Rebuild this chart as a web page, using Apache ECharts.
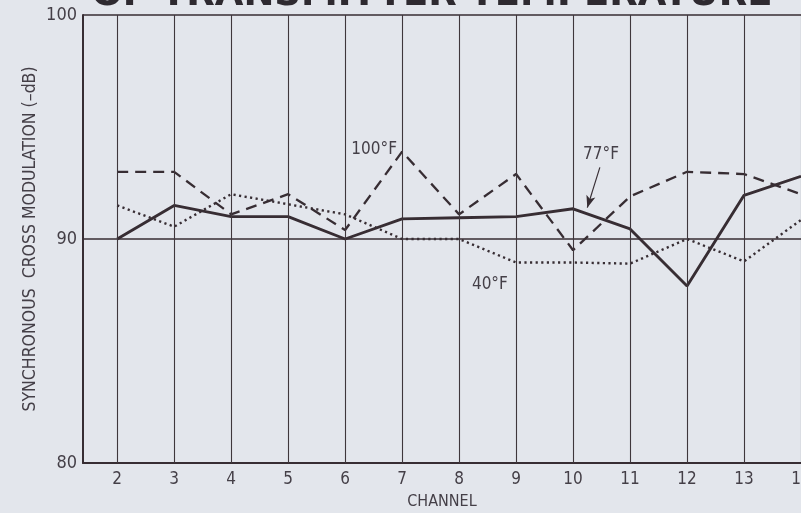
<!DOCTYPE html>
<html>
<head>
<meta charset="utf-8">
<script src="https://cdn.jsdelivr.net/npm/echarts@6/dist/echarts.min.js"></script>
<style>
html,body{margin:0;padding:0;background:#e3e6ec;}
#c{width:801px;height:513px;}
</style>
</head>
<body>
<div id="c"></div>
<script>
const channels = [2, 3, 4, 5, 6, 7, 8, 9, 10, 11, 12, 13, 14];
const temp100F = [93.0, 93.0, 91.1, 92.0, 90.4, 93.9, 91.1, 92.9, 89.5, 91.9, 93.0, 92.9, 92.0];
const temp77F  = [90.0, 91.5, 91.0, 91.0, 90.0, 90.9, 90.95, 91.0, 91.35, 90.45, 87.9, 91.95, 92.8];
const temp40F  = [91.5, 90.55, 92.0, 91.55, 91.1, 90.0, 90.0, 88.95, 88.95, 88.9, 90.0, 89.0, 90.85];
const yTicks = [80, 90, 100];
const annotations = [
  {x: 6.51, y: 94.0, text: '100°F'},
  {x: 10.49, y: 93.75, text: '77°F'},
  {x: 8.54, y: 87.95, text: '40°F'}
];
const arrow77 = {from: [10.47, 93.2], to: [10.25, 91.4]};

const ink = '#372d33';
const txt = '#443f47';
const font = "'Liberation Sans Narrow','DejaVu Sans Condensed',sans-serif";

function pairs(vals){ return channels.map((c,i)=>[c, vals[i]]); }

const chart = echarts.init(document.getElementById('c'), null, {renderer:'canvas'});
chart.setOption({
  backgroundColor: '#e3e6ec',
  animation: false,
  grid: {left: 83, right: 0, top: 15, bottom: 50, containLabel: false, outerBoundsMode: 'none'},
  xAxis: {
    type: 'value', min: 1.4, max: 14,
    name: 'CHANNEL', nameLocation: 'middle', nameGap: 31,
    nameTextStyle: {fontFamily: font, fontSize: 16, color: txt},
    axisLine: {show: true, lineStyle: {color: ink, width: 2}},
    axisTick: {show: false, customValues: channels},
    axisLabel: {customValues: channels, fontFamily: font, fontSize: 17, color: txt, margin: 8, hideOverlap: false},
    splitLine: {show: false}
  },
  yAxis: {
    type: 'value', min: 80, max: 100, interval: 10,
    name: 'SYNCHRONOUS  CROSS MODULATION (–dB)', nameLocation: 'middle', nameGap: 44, nameRotate: 90,
    nameMoveOverlap: false,
    nameTextStyle: {fontFamily: font, fontSize: 17.5, color: txt},
    axisLine: {show: true, lineStyle: {color: ink, width: 2}},
    axisTick: {show: false},
    axisLabel: {fontFamily: font, fontSize: 18, color: txt, margin: 6,
      formatter: v => yTicks.indexOf(v) >= 0 ? String(v) : ''},
    splitLine: {show: true, lineStyle: {color: ink, width: 1.6}}
  },
  series: [
    {
      name: 'grid', type: 'line', data: [], silent: true,
      markLine: {
        silent: true, symbol: ['none','none'], label: {show: false},
        lineStyle: {color: '#3f373c', width: 1.1, type: 'solid'},
        data: channels.map(c => ({xAxis: c}))
      }
    },
    {
      name: '100°F', type: 'line', data: pairs(temp100F), symbol: 'none',
      lineStyle: {color: ink, width: 2.3, type: [11, 7]}
    },
    {
      name: '40°F', type: 'line', data: pairs(temp40F), symbol: 'none',
      lineStyle: {color: ink, width: 2.4, type: [2.2, 3.4]}
    },
    {
      name: '77°F', type: 'line', data: pairs(temp77F), symbol: 'none',
      lineStyle: {color: ink, width: 2.9, type: 'solid'},
      markLine: {
        silent: true, symbol: ['none', 'arrow'], symbolSize: [7, 12], label: {show: false},
        lineStyle: {color: ink, width: 1.2, type: 'solid'},
        data: [[{coord: arrow77.from}, {coord: arrow77.to}]]
      }
    }
  ]
});

const g = [];
annotations.forEach(a => {
  const p = chart.convertToPixel({gridIndex: 0}, [a.x, a.y]);
  g.push({type: 'text', x: p[0], y: p[1], style: {text: a.text, fontFamily: font, fontSize: 17, fill: txt, align: 'center', verticalAlign: 'middle'}});
});
g.push({type: 'text', x: 432, y: 14, style: {text: 'OF TRANSMITTER TEMPERATURE', fontFamily: "'DejaVu Sans', sans-serif", fontWeight: 'bold', fontSize: 37, fill: '#2e2a30', align: 'center', verticalAlign: 'bottom'}});
chart.setOption({graphic: g});
</script>
</body>
</html>
